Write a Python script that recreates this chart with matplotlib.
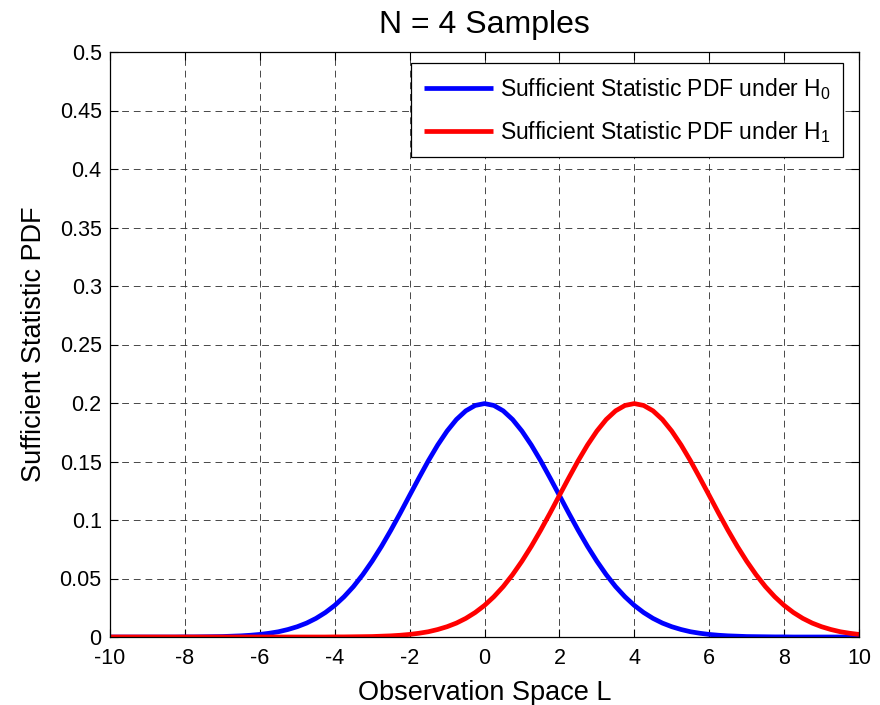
import numpy as np
import matplotlib
matplotlib.use("Agg")
import matplotlib.pyplot as plt

plt.rcParams['font.family'] = ['Liberation Sans', 'DejaVu Sans']
plt.rcParams['mathtext.fontset'] = 'custom'
plt.rcParams['mathtext.rm'] = 'Liberation Sans'
plt.rcParams['mathtext.it'] = 'Liberation Sans:italic'

# Observation space samples (step 0.25 from -10 to 10)
x_vals = np.linspace(-10, 10, 81)

# PDF under H0
pdf_h0 = [0, 0, 0, 0, 0, 0, 0, 0, 0.0001, 0.0001, 0.0002, 0.0003, 0.0004, 0.0007, 0.0010, 0.0015,
          0.0022, 0.0032, 0.0045, 0.0064, 0.0088, 0.0119, 0.0159, 0.0209, 0.0270, 0.0344, 0.0431,
          0.0533, 0.0648, 0.0775, 0.0913, 0.1059, 0.1210, 0.1360, 0.1506, 0.1641, 0.1760, 0.1859,
          0.1933, 0.1979, 0.1995,
          0.1979, 0.1933, 0.1859, 0.1760, 0.1641, 0.1506, 0.1360, 0.1210, 0.1059, 0.0913, 0.0775,
          0.0648, 0.0533, 0.0431, 0.0344, 0.0270, 0.0209, 0.0159, 0.0119, 0.0088, 0.0064, 0.0045,
          0.0032, 0.0022, 0.0015, 0.0010, 0.0007, 0.0004, 0.0003, 0.0002, 0.0001, 0.0001,
          0, 0, 0, 0, 0, 0, 0, 0]

# PDF under H1
pdf_h1 = [0, 0, 0, 0, 0, 0, 0, 0, 0, 0, 0, 0, 0, 0, 0, 0, 0, 0, 0, 0, 0, 0, 0, 0,
          0.0001, 0.0001, 0.0002, 0.0003, 0.0004, 0.0007, 0.0010, 0.0015, 0.0022, 0.0032, 0.0045,
          0.0064, 0.0088, 0.0119, 0.0159, 0.0209, 0.0270, 0.0344, 0.0431, 0.0533, 0.0648, 0.0775,
          0.0913, 0.1059, 0.1210, 0.1360, 0.1506, 0.1641, 0.1760, 0.1859, 0.1933, 0.1979, 0.1995,
          0.1979, 0.1933, 0.1859, 0.1760, 0.1641, 0.1506, 0.1360, 0.1210, 0.1059, 0.0913, 0.0775,
          0.0648, 0.0533, 0.0431, 0.0344, 0.0270, 0.0209, 0.0159, 0.0119, 0.0088, 0.0064, 0.0045,
          0.0032, 0.0022]

x_ticks = [-10, -8, -6, -4, -2, 0, 2, 4, 6, 8, 10]
y_ticks = [0, 0.05, 0.1, 0.15, 0.2, 0.25, 0.3, 0.35, 0.4, 0.45, 0.5]
y_tick_labels = ['0', '0.05', '0.1', '0.15', '0.2', '0.25', '0.3', '0.35', '0.4', '0.45', '0.5']
labels = [r'Sufficient Statistic PDF under H$_0$', r'Sufficient Statistic PDF under H$_1$']

fig = plt.figure(figsize=(8.8, 7.05), dpi=100)
ax = fig.add_axes([110/880, 1 - 637/705, (859-110)/880, (637-52)/705])

ax.plot(x_vals, pdf_h0, color='#0000ff', lw=3.4, label=labels[0], solid_capstyle='butt')
ax.plot(x_vals, pdf_h1, color='#ff0000', lw=3.4, label=labels[1], solid_capstyle='butt')

ax.set_xlim(-10, 10)
ax.set_ylim(0, 0.5)
ax.set_xticks(x_ticks)
ax.set_xticklabels([str(t) for t in x_ticks])
ax.set_yticks(y_ticks)
ax.set_yticklabels(y_tick_labels)
ax.tick_params(direction='in', length=6, width=0.8, top=True, right=True, labelsize=15.5)
ax.tick_params(axis='x', pad=8)
ax.tick_params(axis='y', pad=6)
for s in ax.spines.values():
    s.set_linewidth(0.9)

ax.grid(True, color='#333333', linestyle=(0, (7, 5)), linewidth=0.7, alpha=0.9)
ax.set_axisbelow(True)

ax.set_title('N = 4 Samples', fontsize=23, pad=14)
ax.set_xlabel('Observation Space L', fontsize=19.5, labelpad=8)
ax.set_ylabel('Sufficient Statistic PDF', fontsize=19.5, labelpad=9)

leg = ax.legend(loc='upper right', bbox_to_anchor=((843-110)/749, (637-63)/585),
                borderaxespad=0, fontsize=16.5, frameon=True, fancybox=False,
                edgecolor='k', framealpha=1, handlelength=3.0, handletextpad=0.3,
                borderpad=0.55, labelspacing=0.75)
leg.get_frame().set_linewidth(0.9)

fig.savefig('out.png', dpi=100)
